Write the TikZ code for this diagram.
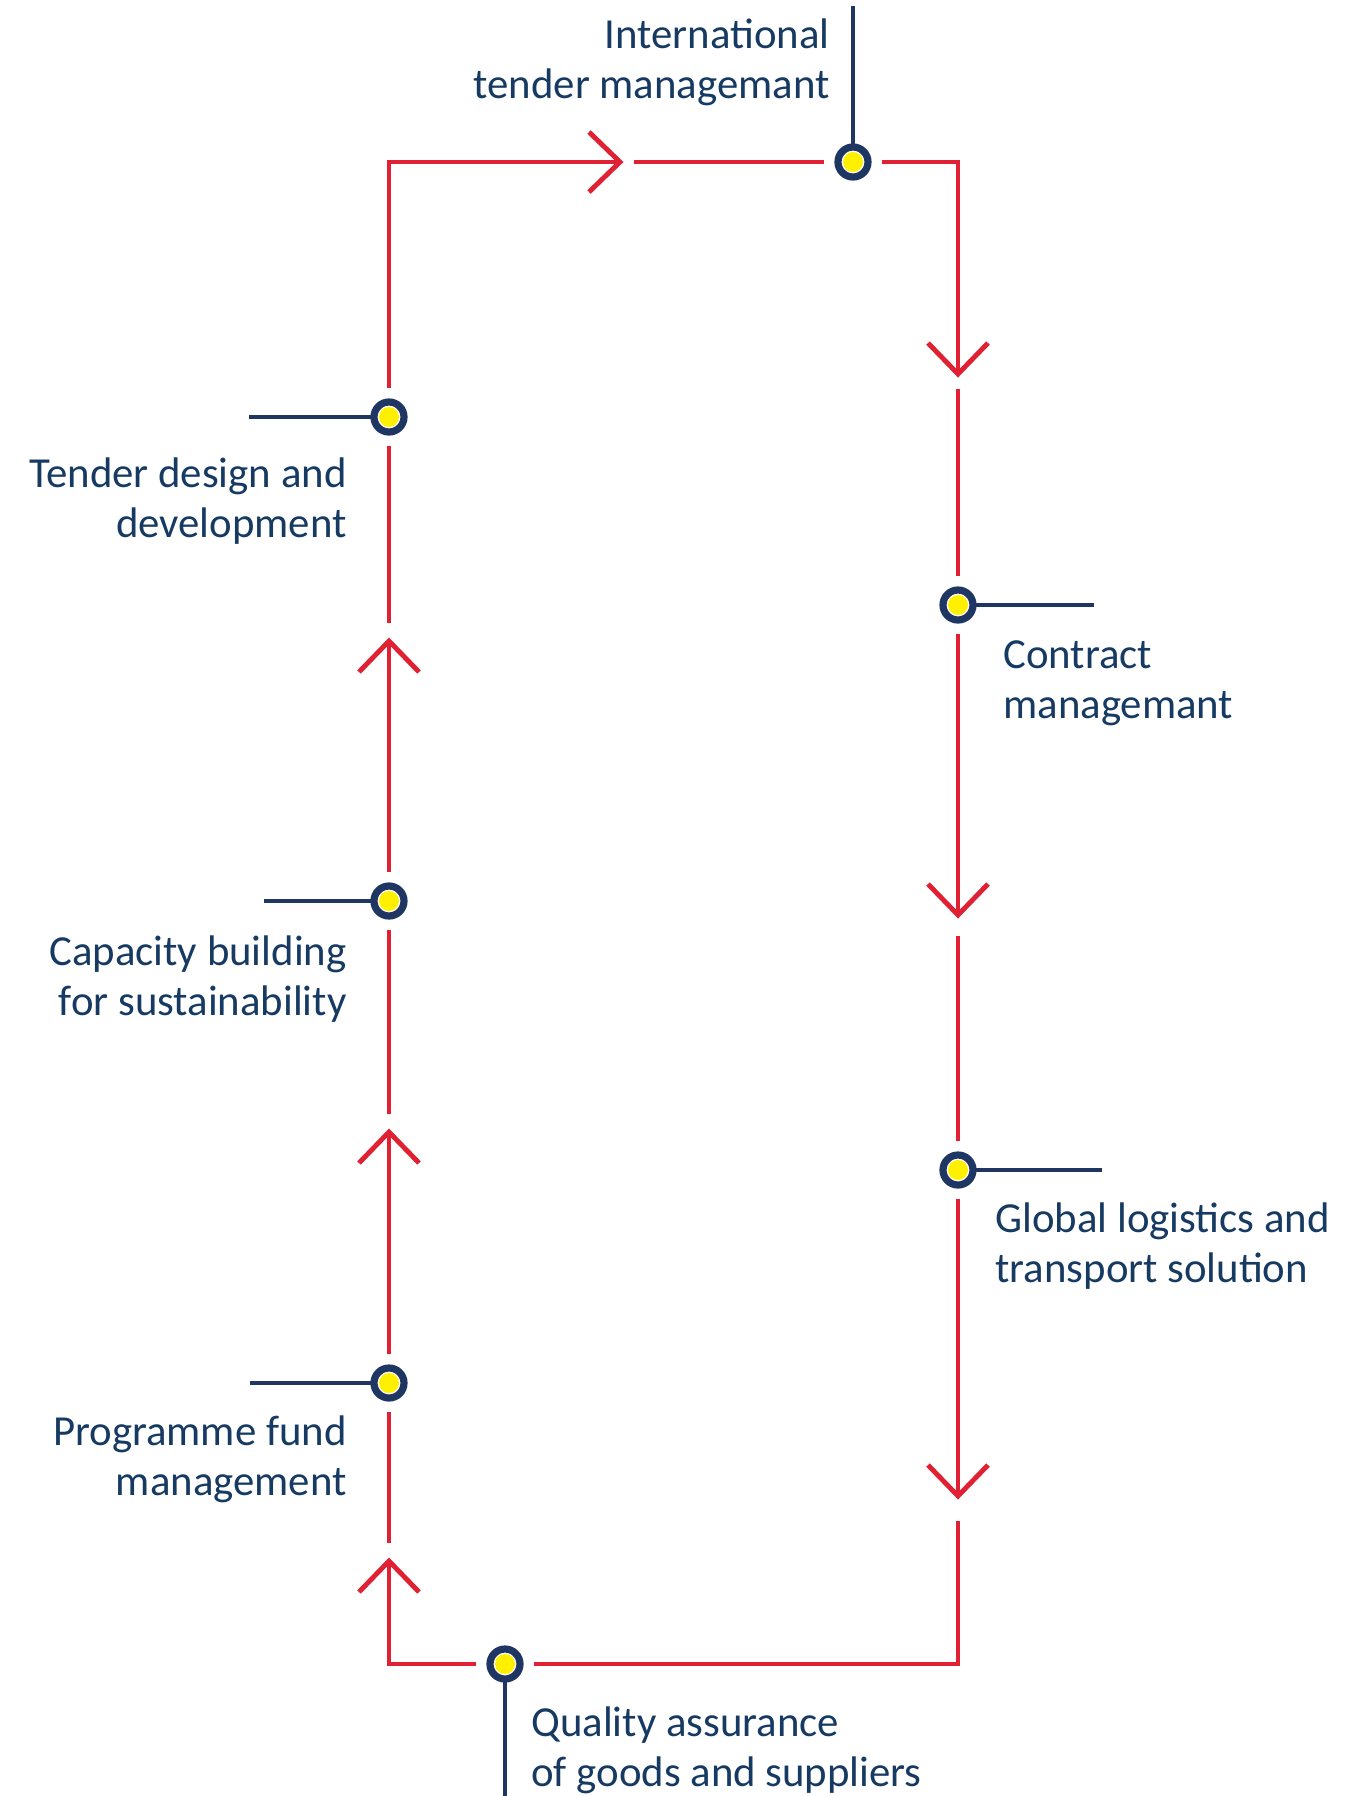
\documentclass[tikz,border=0pt]{standalone}
\usepackage{fontspec}
\setmainfont{Carlito}
\definecolor{lred}{RGB}{224,33,52}
\definecolor{navy}{RGB}{31,54,98}
\definecolor{textnavy}{RGB}{22,58,98}
\definecolor{dotyellow}{RGB}{255,240,0}
\tikzset{
  redline/.style={draw=lred,line width=2.45pt,line join=miter,line cap=butt},
  lead/.style={draw=navy,line width=1.85pt},
  dot/.style={circle,draw=navy,line width=3.6pt,fill=white,minimum size=15pt,
    inner sep=0pt,outer sep=7pt,
    path picture={\fill[dotyellow] (path picture bounding box.center) circle (5pt);}},
  lbl/.style={text=textnavy,font=\fontsize{21.4}{25}\selectfont,inner sep=0pt},
  chev/.pic={\draw[redline] (-31,-30) -- (0,0) -- (-31,30);}
}
\begin{document}
\begin{tikzpicture}[x=0.5pt,y=-0.5pt]
\useasboundingbox (0,0) rectangle (1366,1796);
% corners
\coordinate (TL) at (389,162);
\coordinate (TR) at (958,162);
\coordinate (BR) at (958,1664);
\coordinate (BL) at (389,1664);
% dot positions
\coordinate (pTop) at (853,162);
\coordinate (pR1) at (958,605);
\coordinate (pR2) at (958,1170);
\coordinate (pBot) at (505,1664);
\coordinate (pL3) at (389,1383);
\coordinate (pL2) at (389,901);
\coordinate (pL1) at (389,417);
% lead ends
\coordinate (eTop) at (853,6);
\coordinate (eR1) at (1094,605);
\coordinate (eR2) at (1102,1170);
\coordinate (eBot) at (505,1796);
\coordinate (eL3) at (250,1383);
\coordinate (eL2) at (264,901);
\coordinate (eL1) at (249,417);
% arrow tips and resume points
\coordinate (aT) at (620,162);   \coordinate (rT) at (634,162);
\coordinate (aR1) at (958,374);  \coordinate (rR1) at (958,389);
\coordinate (aR2) at (958,915);  \coordinate (rR2) at (958,936);
\coordinate (aR3) at (958,1496); \coordinate (rR3) at (958,1521);
\coordinate (aL3) at (389,1561); \coordinate (rL3) at (389,1543);
\coordinate (aL2) at (389,1132); \coordinate (rL2) at (389,1114);
\coordinate (aL1) at (389,641);  \coordinate (rL1) at (389,623);
% lead lines
\draw[lead] (pTop) -- (eTop);
\draw[lead] (pR1) -- (eR1);
\draw[lead] (pR2) -- (eR2);
\draw[lead] (pBot) -- (eBot);
\draw[lead] (pL3) -- (eL3);
\draw[lead] (pL2) -- (eL2);
\draw[lead] (pL1) -- (eL1);
% dots
\node[dot] (dTop) at (pTop) {};
\node[dot] (dR1) at (pR1) {};
\node[dot] (dR2) at (pR2) {};
\node[dot] (dBot) at (pBot) {};
\node[dot] (dL3) at (pL3) {};
\node[dot] (dL2) at (pL2) {};
\node[dot] (dL1) at (pL1) {};
% loop
\draw[redline] (dTop) -- (TR) -- (aR1);
\pic[rotate=-90] at (aR1) {chev};
\draw[redline] (rR1) -- (dR1);
\draw[redline] (dR1) -- (aR2);
\pic[rotate=-90] at (aR2) {chev};
\draw[redline] (rR2) -- (dR2);
\draw[redline] (dR2) -- (aR3);
\pic[rotate=-90] at (aR3) {chev};
\draw[redline] (rR3) -- (BR) -- (dBot);
\draw[redline] (dBot) -- (BL) -- (aL3);
\pic[rotate=90] at (aL3) {chev};
\draw[redline] (rL3) -- (dL3);
\draw[redline] (dL3) -- (aL2);
\pic[rotate=90] at (aL2) {chev};
\draw[redline] (rL2) -- (dL2);
\draw[redline] (dL2) -- (aL1);
\pic[rotate=90] at (aL1) {chev};
\draw[redline] (rL1) -- (dL1);
\draw[redline] (dL1) -- (TL) -- (aT);
\pic at (aT) {chev};
\draw[redline] (rT) -- (dTop);
% labels (anchor = baseline of last line)
\node[lbl,align=right,anchor=base east] (tTop) at (830,98) {International\\tender managemant};
\node[lbl,align=right,anchor=base east] (tL1) at (347,537) {Tender design and\\development};
\node[lbl,align=right,anchor=base east] (tL2) at (347,1015) {Capacity building\\for sustainability};
\node[lbl,align=right,anchor=base east] (tL3) at (347,1495) {Programme fund\\management};
\node[lbl,align=left,anchor=base west] (tR1) at (1003,718) {Contract\\managemant};
\node[lbl,align=left,anchor=base west] (tR2) at (995,1282) {Global logistics and\\transport solution};
\node[lbl,align=left,anchor=base west] (tBot) at (531,1786) {Quality assurance\\of goods and suppliers};
\end{tikzpicture}
\end{document}
